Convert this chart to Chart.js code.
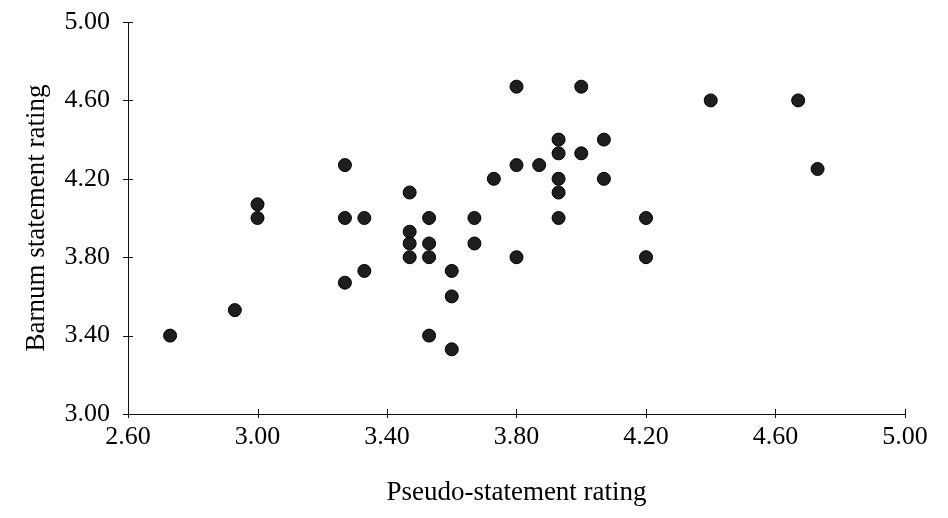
<!DOCTYPE html>
<html>
<head>
<meta charset="utf-8">
<script src="https://cdn.jsdelivr.net/npm/chart.js@4.4.0/dist/chart.umd.min.js"></script>
<style>
html,body{margin:0;padding:0;background:#fff;}
canvas{display:block;}
</style>
</head>
<body>
<canvas id="c" width="948" height="518"></canvas>
<script>
// Data
const pseudoRating = [2.73,2.93,3.00,3.00,3.27,3.27,3.27,3.33,3.33,3.47,3.47,3.47,3.47,3.53,3.53,3.53,3.53,3.60,3.60,3.60,3.67,3.67,3.73,3.80,3.80,3.80,3.87,3.93,3.93,3.93,3.93,3.93,4.00,4.00,4.07,4.07,4.20,4.20,4.40,4.67,4.73];
const barnumRating = [3.40,3.53,4.07,4.00,4.27,4.00,3.67,4.00,3.73,4.13,3.93,3.87,3.80,4.00,3.87,3.80,3.40,3.73,3.60,3.33,4.00,3.87,4.20,4.67,4.27,3.80,4.27,4.40,4.33,4.20,4.13,4.00,4.67,4.33,4.40,4.20,4.00,3.80,4.60,4.60,4.25];
const xTicks = [2.60,3.00,3.40,3.80,4.20,4.60,5.00];
const yTicks = [3.00,3.40,3.80,4.20,4.60,5.00];
const xTitle = 'Pseudo-statement rating';
const yTitle = 'Barnum statement rating';

const points = pseudoRating.map((x,i)=>({x:x, y:barnumRating[i]}));
const FONT = "'Liberation Serif', 'Times New Roman', serif";

const crossTicks = {
  id:'crossTicks',
  afterDraw(chart){
    const ctx = chart.ctx;
    const xs = chart.scales.x, ys = chart.scales.y;
    ctx.save();
    ctx.strokeStyle = '#111';
    ctx.lineWidth = 1;
    ctx.beginPath();
    xTicks.forEach(v=>{
      const px = Math.round(xs.getPixelForValue(v))+0.5;
      ctx.moveTo(px, ys.bottom-5);
      ctx.lineTo(px, ys.bottom+4);
    });
    yTicks.forEach(v=>{
      const py = Math.round(ys.getPixelForValue(v))+0.5;
      ctx.moveTo(xs.left-5, py);
      ctx.lineTo(xs.left+5, py);
    });
    ctx.stroke();
    ctx.restore();
  }
};

new Chart(document.getElementById('c'), {
  type:'scatter',
  data:{datasets:[{
    data: points,
    pointRadius: 6.5,
    pointHoverRadius: 6.5,
    backgroundColor:'#1e1e1e',
    borderColor:'#000',
    borderWidth:1
  }]},
  options:{
    responsive:false,
    devicePixelRatio:1,
    animation:false,
    layout:{padding:{top:22,right:43,bottom:0,left:0}},
    plugins:{legend:{display:false},tooltip:{enabled:false}},
    scales:{
      x:{
        type:'linear', min:2.6, max:5.0,
        afterBuildTicks(s){ s.ticks = xTicks.map(v=>({value:v})); },
        afterFit(s){ s.height = 104; s.paddingLeft = 0; s.paddingRight = 0; },
        grid:{display:false, drawTicks:false},
        border:{display:true, color:'#111', width:1},
        ticks:{color:'#000', padding:8, maxRotation:0, autoSkip:false,
          font:{family:FONT, size:26},
          callback:v=>Number(v).toFixed(2)},
        title:{display:true, text:xTitle, color:'#000',
          font:{family:FONT, size:27}, padding:{top:0,bottom:9}}
      },
      y:{
        type:'linear', min:3.0, max:5.0,
        afterBuildTicks(s){ s.ticks = yTicks.map(v=>({value:v})); },
        afterFit(s){ s.width = 128; s.paddingTop = 0; s.paddingBottom = 0; },
        grid:{display:false, drawTicks:false},
        border:{display:true, color:'#111', width:1},
        ticks:{color:'#000', padding:18, autoSkip:false,
          font:{family:FONT, size:26},
          callback:v=>Number(v).toFixed(2)},
        title:{display:true, text:yTitle, color:'#000',
          font:{family:FONT, size:27}, padding:{top:21,bottom:0}}
      }
    }
  },
  plugins:[crossTicks]
});
</script>
</body>
</html>
